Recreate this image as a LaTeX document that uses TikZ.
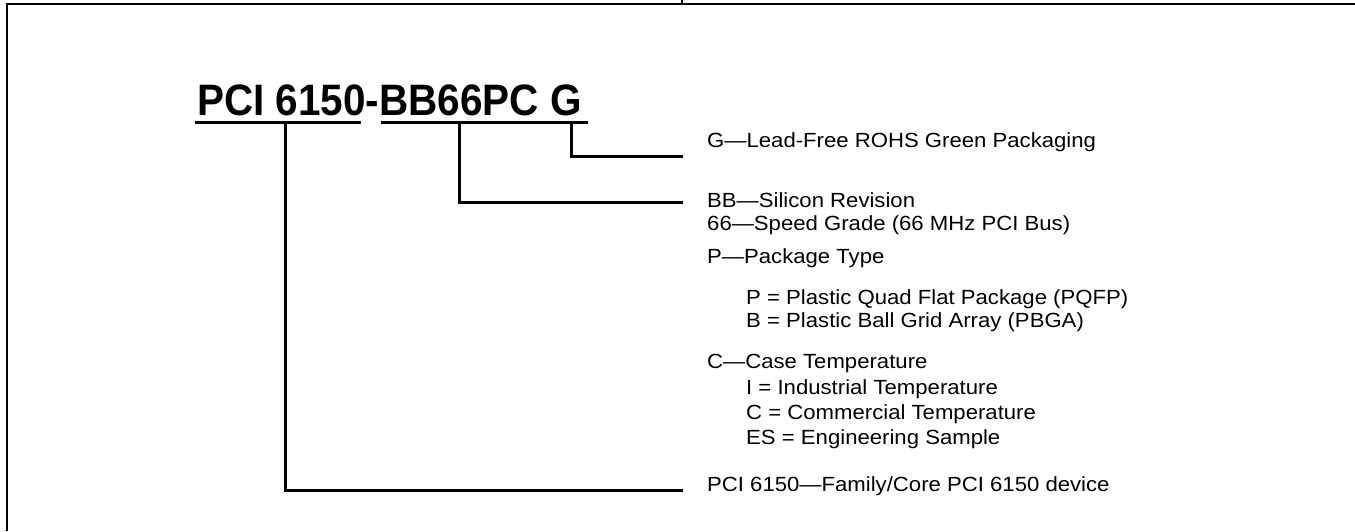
\documentclass[tikz,border=0pt]{standalone}
\usepackage{fontspec}
\setmainfont{Liberation Sans}
\newfontfamily\headfont[FakeStretch=0.92]{Liberation Sans}
\newfontfamily\descfont[FakeStretch=1.08]{Liberation Sans}
\usepackage{tikz}
\usetikzlibrary{positioning, calc}
\definecolor{RuleBlack}{HTML}{000000}

\begin{document}
\begin{tikzpicture}[x=1pt, y=-1pt,
    partno/.style={anchor=base west, inner sep=0pt, font=\headfont\fontsize{44}{50}\selectfont\bfseries},
    desc/.style={anchor=base west, inner sep=0pt, font=\descfont\fontsize{20.5}{24}\selectfont},
    lead/.style={line width=3pt, RuleBlack}]
  \useasboundingbox (0,0) rectangle (1355,531);
  % Frame
  \draw[line width=2.6pt, RuleBlack] (6,4) -- (1355,4);
  \draw[line width=2.6pt, RuleBlack] (7,3) -- (7,531);
  \draw[line width=1.5pt, RuleBlack] (682,0) -- (682,4);
  % Part number
  \node[partno] (pn) at (197,115) {PCI 6150-BB66PC G};
  \draw[lead] (195,122.5) -- (361,122.5);
  \draw[lead] (381,122.5) -- (588,122.5);
  % Tap points on the underlines
  \coordinate (pcitop) at (285,122.5);
  \coordinate (bbtop) at (459,122.5);
  \coordinate (gtop) at (571,122.5);
  % Descriptions
  \node[desc] (gtxt) at (707,147) {G—Lead-Free ROHS Green Packaging};
  \node[desc] (bbtxt) at (707,207) {BB—Silicon Revision};
  \node[desc] (spdtxt) at (707,230) {66—Speed Grade (66 MHz PCI Bus)};
  \node[desc] (pkgtxt) at (707,263) {P—Package Type};
  \node[desc] (pqfp) at (746,304) {P = Plastic Quad Flat Package (PQFP)};
  \node[desc] (pbga) at (746,327) {B = Plastic Ball Grid Array (PBGA)};
  \node[desc] (temptxt) at (707,368) {C—Case Temperature};
  \node[desc] (ind) at (746,394) {I = Industrial Temperature};
  \node[desc] (com) at (746,419) {C = Commercial Temperature};
  \node[desc] (es) at (746,444) {ES = Engineering Sample};
  \node[desc] (famtxt) at (707,491) {PCI 6150—Family/Core PCI 6150 device};
  % Leader ends
  \coordinate (gend) at (683,156);
  \coordinate (bbend) at (683,202);
  \coordinate (pciend) at (683,490);
  % Leaders
  \draw[lead] (gtop) |- (gend);
  \draw[lead] (bbtop) |- (bbend);
  \draw[lead] (pcitop) |- (pciend);
\end{tikzpicture}
\end{document}
